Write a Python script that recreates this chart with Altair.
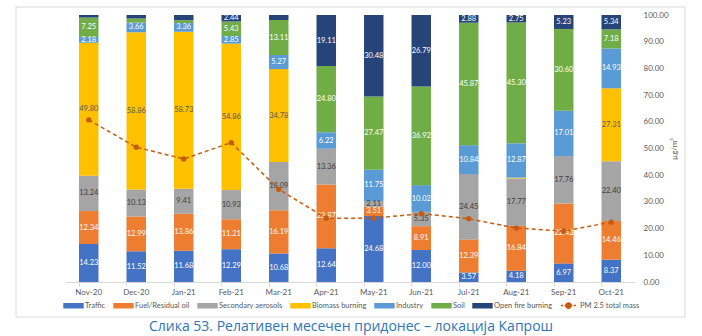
import altair as alt
import pandas as pd

months = ["Nov-20", "Dec-20", "Jan-21", "Feb-21", "Mar-21", "Apr-21",
          "May-21", "Jun-21", "Jul-21", "Aug-21", "Sep-21", "Oct-21"]
series = ["Traffic", "Fuel/Residual oil", "Secondary aerosols", "Biomass burning",
          "Industry", "Soil", "Open fire burning"]
line_name = "PM 2.5 total mass"

traffic = [14.23, 11.52, 11.68, 12.29, 10.68, 12.64, 24.68, 12.00, 3.57, 4.18, 6.97, 8.37]
fuel = [12.34, 12.99, 13.86, 11.21, 16.19, 23.87, 3.51, 8.91, 12.39, 16.84, 22.43, 14.46]
secondary = [13.24, 10.13, 9.41, 10.93, 18.09, 13.36, 2.11, 5.35, 24.45, 17.77, 17.76, 22.40]
biomass = [49.80, 58.86, 58.73, 54.86, 34.78, 0.0, 0.0, 0.0, 0.0, 0.29, 0.0, 27.31]
industry = [2.18, 3.66, 3.36, 2.85, 5.27, 6.22, 11.75, 10.02, 10.84, 12.87, 17.01, 14.93]
soil = [7.25, 1.50, 1.00, 5.43, 13.11, 24.80, 27.47, 36.92, 45.87, 45.30, 30.60, 7.18]
open_fire = [0.96, 1.34, 1.96, 2.44, 1.88, 19.11, 30.48, 26.79, 2.88, 2.75, 5.23, 5.34]
pm25 = [60.7, 50.5, 46.1, 52.2, 34.7, 23.9, 23.9, 25.6, 23.7, 20.2, 19.1, 22.4]

bar_colors = ["#4472C4", "#ED7D31", "#A5A5A5", "#FFC000", "#5B9BD5", "#70AD47", "#264478"]
line_color = "#C55A11"
label_colors = ["#FFFFFF", "#FFFFFF", "#404040", "#595959", "#FFFFFF", "#FFFFFF", "#FFFFFF"]
caption = "Слика 53. Релативен месечен придонес – локација Капрош"

values = [traffic, fuel, secondary, biomass, industry, soil, open_fire]
rows = []
for i, s in enumerate(series):
    for m, v in zip(months, values[i]):
        rows.append({"month": m, "series": s, "order": i, "value": v})
df = pd.DataFrame(rows)
line_df = pd.DataFrame({"month": months, "series": [line_name] * len(months), "pm": pm25})

FONT = "Lato"
GRAY = "#595959"
FS = 8

rect_path = "M-1,-0.22H1V0.22H-1Z"
pm_path = ("M-0.8,0H-0.56M-0.42,0H-0.22M0.22,0H0.42M0.56,0H0.8"
           "M-0.28,0A0.28,0.28 0 1,1 0.28,0A0.28,0.28 0 1,1 -0.28,0Z")

x_enc = alt.X(
    "month:N", sort=months, title=None,
    scale=alt.Scale(paddingInner=0.59, paddingOuter=0.295),
    axis=alt.Axis(labelAngle=0, labelFontSize=FS, labelColor=GRAY, labelFont=FONT,
                  domainColor="#D9D9D9", tickColor="#D9D9D9", tickSize=4, bandPosition=0,
                  labelPadding=2),
)

legend = alt.Legend(
    orient="none", legendX=-2, legendY=280, direction="horizontal", title=None,
    labelFontSize=7.5, labelColor=GRAY, labelFont=FONT, symbolSize=361,
    columnPadding=5, labelOffset=1,
    symbolType=alt.ExprRef("datum.value === '%s' ? '%s' : '%s'" % (line_name, pm_path, rect_path)),
    symbolStrokeColor=alt.ExprRef("datum.value === '%s' ? '%s' : 'transparent'" % (line_name, line_color)),
    symbolStrokeWidth=1.4,
    symbolOpacity=1,
)

color_enc = alt.Color(
    "series:N",
    scale=alt.Scale(domain=series + [line_name], range=bar_colors + [line_color]),
    legend=legend,
)

y_left = alt.Y(
    "y0:Q", title="%",
    scale=alt.Scale(domain=[0, 100], nice=False),
    axis=alt.Axis(values=list(range(0, 101, 10)), format=".2f", grid=True, gridColor="#D9D9D9",
                  domain=False, ticks=False, labelFontSize=FS, labelColor=GRAY, labelFont=FONT,
                  labelOverlap=False, labelPadding=4, titleFontSize=FS, titleColor=GRAY, titleFont=FONT,
                  titleFontWeight="normal", titlePadding=6),
)

base = alt.Chart(df).transform_stack(
    stack="value", groupby=["month"], sort=[alt.SortField("order", order="ascending")],
    as_=["y0", "y1"],
)

bars = base.mark_bar().encode(
    x=x_enc, y=y_left, y2="y1:Q", color=color_enc,
    order=alt.Order("order:Q"),
)

texts = base.transform_calculate(
    mid="(datum.y0 + datum.y1) / 2"
).transform_filter("datum.value >= 2").mark_text(fontSize=7.5, font=FONT).encode(
    x=alt.X("month:N", sort=months),
    y=alt.Y("mid:Q", axis=None),
    text=alt.Text("value:Q", format=".2f"),
    fill=alt.Fill("series:N", scale=alt.Scale(domain=series, range=label_colors), legend=None),
)

left = alt.layer(bars, texts)

line = alt.Chart(line_df).mark_line(
    strokeDash=[4, 3], strokeWidth=1.5, point=alt.OverlayMarkDef(filled=True, size=28, color=line_color)
).encode(
    x=alt.X("month:N", sort=months),
    y=alt.Y("pm:Q", title="µg/m³",
            scale=alt.Scale(domain=[0, 100], nice=False),
            axis=alt.Axis(orient="right", values=list(range(0, 101, 10)), format=".2f", grid=False,
                          domain=False, ticks=False, labelFontSize=FS, labelColor=GRAY, labelFont=FONT,
                          labelOverlap=False, labelPadding=8, titleFontSize=FS, titleColor=GRAY,
                          titleFont=FONT, titleFontWeight="normal", titlePadding=10, titleAngle=270)),
    color=alt.Color("series:N"),
)

frame = alt.Chart(pd.DataFrame({"k": [0]})).mark_rect(
    fillOpacity=0, stroke="#D9D9D9", strokeWidth=1
).encode(x=alt.value(-49), x2=alt.value(620), y=alt.value(-8), y2=alt.value(302))

cap = alt.Chart(pd.DataFrame({"t": [caption]})).mark_text(
    fontSize=14, font="Open Sans", color="#2E75B6", align="center", baseline="middle"
).encode(x=alt.value(286), y=alt.value(312), text="t:N")

chart = alt.layer(frame, left, line, cap).resolve_scale(y="independent").properties(
    width=570, height=267,
    autosize=alt.AutoSizeParams(type="none"),
    padding={"left": 65, "top": 15, "right": 67, "bottom": 54},
    background="white",
).configure_view(stroke=None)

chart.save("out.html", embed_options={"renderer": "svg", "actions": False})
